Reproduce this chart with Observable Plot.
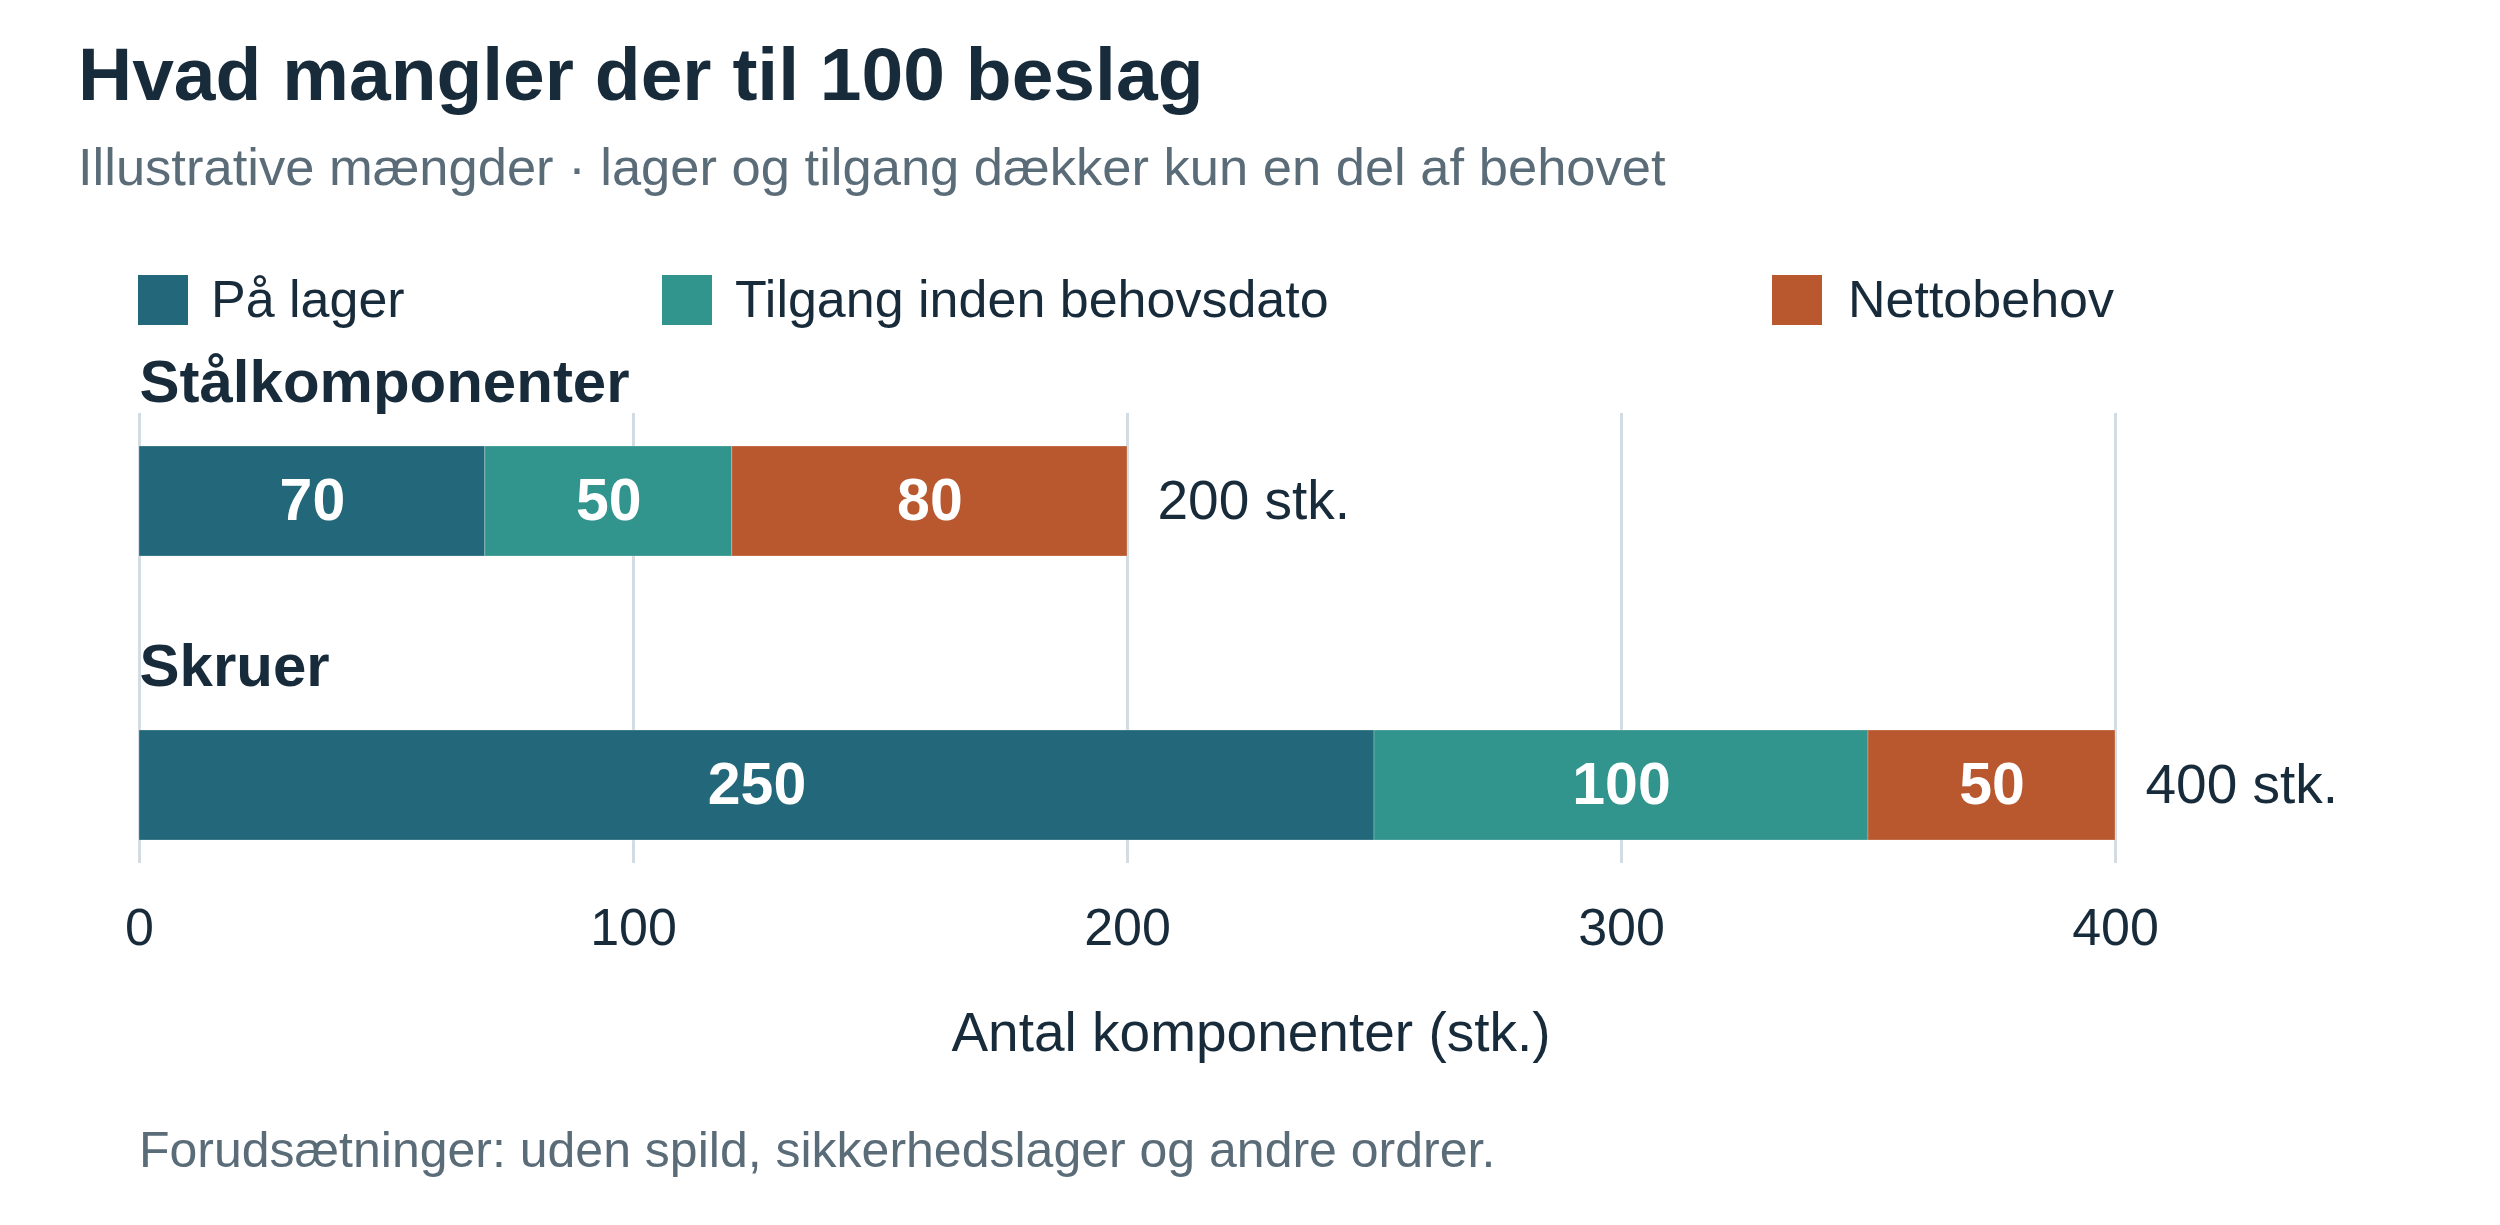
<!DOCTYPE html>
<html>
<head>
<meta charset="utf-8">
<script src="https://cdn.jsdelivr.net/npm/d3@7"></script>
<script src="https://cdn.jsdelivr.net/npm/@observablehq/plot@0.6"></script>
<style>
  html, body { margin: 0; padding: 0; background: #ffffff; }
  body { width: 2500px; height: 1225px; position: relative; overflow: hidden;
         font-family: "Liberation Sans", Arial, Helvetica, sans-serif; color: #182b3a; }
  .abs { position: absolute; white-space: nowrap; line-height: 1; }
  #title { left: 78px; top: 37px; font-size: 75px; font-weight: bold; color: #182b3a; }
  #subtitle { left: 78px; top: 140.5px; font-size: 52.5px; color: #5b6c79; }
  .sw { position: absolute; width: 50px; height: 50px; top: 275px; }
  .lt { position: absolute; top: 273px; font-size: 52px; line-height: 1; white-space: nowrap; color: #182b3a; }
  #chart { position: absolute; left: 0; top: 335px; }
  #caption { left: 139px; top: 1125px; font-size: 50px; color: #5b6c79; }
</style>
</head>
<body>
<div id="title" class="abs"></div>
<div id="subtitle" class="abs"></div>
<div id="legend"></div>
<div id="chart"></div>
<div id="caption" class="abs"></div>
<script>
// ---- data ----
const titleText = "Hvad mangler der til 100 beslag";
const subtitleText = "Illustrative mængder · lager og tilgang dækker kun en del af behovet";
const captionText = "Forudsætninger: uden spild, sikkerhedslager og andre ordrer.";
const axisLabel = "Antal komponenter (stk.)";

const categories = ["Stålkomponenter", "Skruer"];
const seriesNames = ["På lager", "Tilgang inden behovsdato", "Nettobehov"];
const seriesColors = ["#22687a", "#32958d", "#b9582e"];
const paaLager = [70, 250];
const tilgang = [50, 100];
const nettobehov = [80, 50];
const xTicks = [0, 100, 200, 300, 400];
const unitSuffix = " stk.";

// ---- build table ----
const seriesValues = [paaLager, tilgang, nettobehov];
const rows = [];
categories.forEach((c, i) => {
  seriesNames.forEach((s, j) => rows.push({category: c, series: s, value: seriesValues[j][i]}));
});
const totals = categories.map((c, i) => ({category: c, total: seriesValues.reduce((a, v) => a + v[i], 0)}));

document.getElementById("title").textContent = titleText;
document.getElementById("subtitle").textContent = subtitleText;
document.getElementById("caption").textContent = captionText;

// legend
const legendPos = [{sw: 138, tx: 211}, {sw: 662, tx: 735}, {sw: 1772, tx: 1848}];
const legend = document.getElementById("legend");
seriesNames.forEach((s, j) => {
  const sw = document.createElement("div");
  sw.className = "sw";
  sw.style.left = legendPos[j].sw + "px";
  sw.style.background = seriesColors[j];
  legend.appendChild(sw);
  const t = document.createElement("div");
  t.className = "lt";
  t.style.left = legendPos[j].tx + "px";
  t.textContent = s;
  legend.appendChild(t);
});

const textColor = "#182b3a";

const chart = Plot.plot({
  width: 2500,
  height: 745,
  marginLeft: 139,
  marginRight: 138,
  marginTop: 78,
  marginBottom: 217,
  style: {fontFamily: "'Liberation Sans', Arial, Helvetica, sans-serif", color: textColor, background: "transparent"},
  x: {domain: [0, 450], ticks: xTicks},
  y: {type: "band", domain: categories, paddingInner: 0.614, paddingOuter: 0.0965, align: 0.58, axis: null},
  color: {domain: seriesNames, range: seriesColors},
  marks: [
    Plot.gridX(xTicks, {stroke: "#d3dce2", strokeOpacity: 1, strokeWidth: 3}),
    Plot.barX(rows, Plot.stackX({x: "value", y: "category", fill: "series", z: "series", order: seriesNames,
      stroke: "white", strokeWidth: 1, strokeOpacity: 0.25})),
    Plot.text(rows, Plot.stackX({x: "value", y: "category", z: "series", order: seriesNames, text: d => String(d.value),
      fill: "white", fontWeight: "bold", fontSize: 59})),
    Plot.text(totals, {x: "total", y: "category", text: d => d.total + unitSuffix, textAnchor: "start",
      dx: 30, fontSize: 55, fill: textColor}),
    Plot.text(categories, {y: d => d, frameAnchor: "left", textAnchor: "start", lineAnchor: "bottom",
      dy: -100, fontSize: 60, fontWeight: "bold", fill: textColor, text: d => d}),
    Plot.axisX({ticks: xTicks, tickSize: 0, tickPadding: 45, fontSize: 52, tickFormat: d => String(d),
      label: null, fill: textColor}),
    Plot.axisX({ticks: xTicks, tickSize: 0, tickFormat: () => "", fontSize: 55,
      label: axisLabel, labelAnchor: "center", labelOffset: 187, labelArrow: "none", fill: textColor})
  ]
});
document.getElementById("chart").appendChild(chart);
</script>
</body>
</html>
